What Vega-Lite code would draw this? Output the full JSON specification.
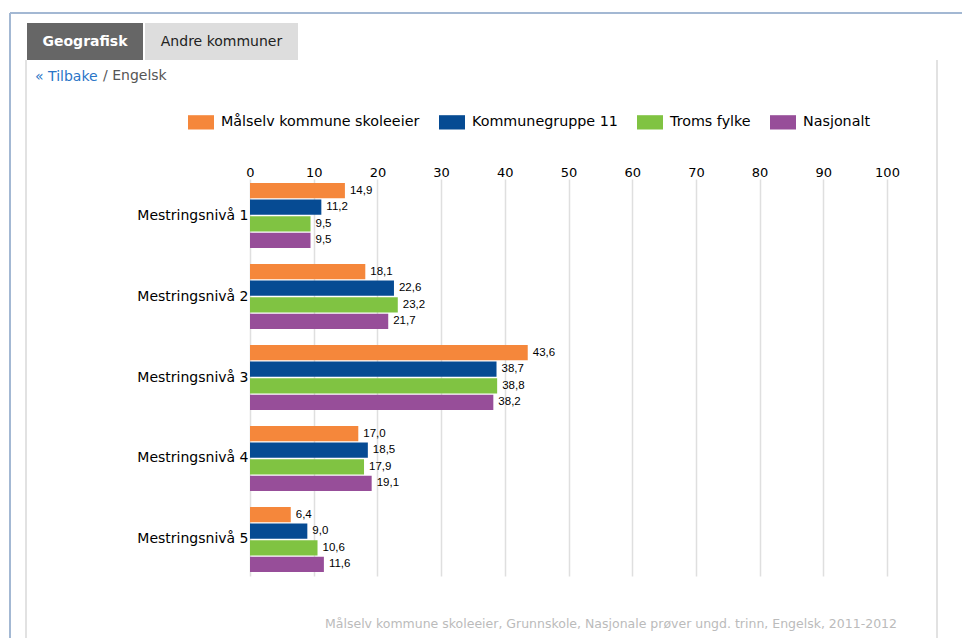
{
  "$schema": "https://vega.github.io/schema/vega-lite/v6.json",
  "width": 637,
  "height": 397,
  "autosize": {"type": "none"},
  "padding": {"left": 250, "top": 179, "right": 75, "bottom": 62},
  "background": "#ffffff",
  "config": {
    "view": {"stroke": null},
    "font": "DejaVu Sans",
    "locale": {"number": {"decimal": ",", "thousands": " ", "grouping": [3], "currency": ["", " kr"]}}
  },
  "title": {
    "text": "Målselv kommune skoleeier, Grunnskole, Nasjonale prøver ungd. trinn, Engelsk, 2011-2012",
    "orient": "bottom",
    "anchor": "end",
    "frame": "group",
    "offset": -21,
    "dx": 10,
    "fontSize": 12.5,
    "fontWeight": "normal",
    "font": "DejaVu Sans",
    "color": "#bbbbbb"
  },
  "resolve": {"scale": {"x": "independent", "y": "independent"}},
  "layer": [
    {
      "data": {"values": [{}]},
      "layer": [
        {
          "mark": {"type": "rule", "color": "#a3b8d3", "strokeWidth": 2},
          "encoding": {
            "x": {"datum": 0, "type": "quantitative", "scale": {"domain": [0, 1], "range": [-240, 712]}, "axis": null},
            "y": {"datum": 0, "type": "quantitative", "scale": {"domain": [0, 1], "range": [-166, 459]}, "axis": null},
            "y2": {"datum": 1}
          }
        },
        {
          "mark": {"type": "rule", "color": "#a3b8d3", "strokeWidth": 2},
          "encoding": {
            "x": {"datum": 0, "type": "quantitative", "scale": {"domain": [0, 1], "range": [-240, 712]}, "axis": null},
            "x2": {"datum": 1},
            "y": {"datum": 0, "type": "quantitative", "scale": {"domain": [0, 1], "range": [-166, 459]}, "axis": null}
          }
        }
      ]
    },
    {
      "data": {"values": [{}]},
      "layer": [
        {
          "mark": {"type": "rule", "color": "#e2e2e2", "strokeWidth": 2},
          "encoding": {
            "x": {"datum": 0, "type": "quantitative", "scale": {"domain": [0, 1], "range": [-224, 687]}, "axis": null},
            "y": {"datum": 0, "type": "quantitative", "scale": {"domain": [0, 1], "range": [-119, 459]}, "axis": null},
            "y2": {"datum": 1}
          }
        },
        {
          "mark": {"type": "rule", "color": "#e2e2e2", "strokeWidth": 2},
          "encoding": {
            "x": {"datum": 1, "type": "quantitative", "scale": {"domain": [0, 1], "range": [-224, 687]}, "axis": null},
            "y": {"datum": 0, "type": "quantitative", "scale": {"domain": [0, 1], "range": [-119, 459]}, "axis": null},
            "y2": {"datum": 1}
          }
        }
      ]
    },
    {
      "data": {"values": [{"tab": "Geografisk"}]},
      "encoding": {
        "x": {"field": "tab", "type": "nominal", "scale": {"type": "band", "range": [-223, -107], "paddingInner": 0, "paddingOuter": 0}, "axis": null},
        "y": {"field": "tab", "type": "nominal", "scale": {"type": "band", "range": [-156, -119], "paddingInner": 0, "paddingOuter": 0}, "axis": null}
      },
      "layer": [
        {"mark": {"type": "rect", "color": "#666666"}},
        {
          "mark": {"type": "text", "color": "#ffffff", "font": "DejaVu Sans", "fontWeight": "bold", "fontSize": 14, "align": "center", "baseline": "middle"},
          "encoding": {"text": {"field": "tab", "type": "nominal"}}
        }
      ]
    },
    {
      "data": {"values": [{"tab": "Andre kommuner"}]},
      "encoding": {
        "x": {"field": "tab", "type": "nominal", "scale": {"type": "band", "range": [-105, 48], "paddingInner": 0, "paddingOuter": 0}, "axis": null},
        "y": {"field": "tab", "type": "nominal", "scale": {"type": "band", "range": [-156, -119], "paddingInner": 0, "paddingOuter": 0}, "axis": null}
      },
      "layer": [
        {"mark": {"type": "rect", "color": "#dddddd"}},
        {
          "mark": {"type": "text", "color": "#222222", "font": "DejaVu Sans", "fontSize": 14, "align": "center", "baseline": "middle"},
          "encoding": {"text": {"field": "tab", "type": "nominal"}}
        }
      ]
    },
    {
      "data": {"values": [{"crumb": "« Tilbake"}]},
      "mark": {"type": "text", "align": "left", "baseline": "middle", "font": "DejaVu Sans", "fontSize": 14, "color": "#2a75c7"},
      "encoding": {
        "x": {"field": "crumb", "type": "nominal", "bandPosition": 0, "scale": {"type": "band", "range": [-215, -155], "paddingInner": 0, "paddingOuter": 0}, "axis": null},
        "y": {"field": "crumb", "type": "nominal", "scale": {"type": "band", "range": [-112, -92], "paddingInner": 0, "paddingOuter": 0}, "axis": null},
        "text": {"field": "crumb", "type": "nominal"}
      }
    },
    {
      "data": {"values": [{"crumb": "/ Engelsk"}]},
      "mark": {"type": "text", "align": "left", "baseline": "middle", "font": "DejaVu Sans", "fontSize": 14, "color": "#555555"},
      "encoding": {
        "x": {"field": "crumb", "type": "nominal", "bandPosition": 0, "scale": {"type": "band", "range": [-147, -80], "paddingInner": 0, "paddingOuter": 0}, "axis": null},
        "y": {"field": "crumb", "type": "nominal", "scale": {"type": "band", "range": [-113, -93], "paddingInner": 0, "paddingOuter": 0}, "axis": null},
        "text": {"field": "crumb", "type": "nominal"}
      }
    },
    {
      "data": {
        "values": [
          {"level": "Mestringsnivå 1", "series": "Målselv kommune skoleeier", "value": 14.9},
          {"level": "Mestringsnivå 1", "series": "Kommunegruppe 11", "value": 11.2},
          {"level": "Mestringsnivå 1", "series": "Troms fylke", "value": 9.5},
          {"level": "Mestringsnivå 1", "series": "Nasjonalt", "value": 9.5},
          {"level": "Mestringsnivå 2", "series": "Målselv kommune skoleeier", "value": 18.1},
          {"level": "Mestringsnivå 2", "series": "Kommunegruppe 11", "value": 22.6},
          {"level": "Mestringsnivå 2", "series": "Troms fylke", "value": 23.2},
          {"level": "Mestringsnivå 2", "series": "Nasjonalt", "value": 21.7},
          {"level": "Mestringsnivå 3", "series": "Målselv kommune skoleeier", "value": 43.6},
          {"level": "Mestringsnivå 3", "series": "Kommunegruppe 11", "value": 38.7},
          {"level": "Mestringsnivå 3", "series": "Troms fylke", "value": 38.8},
          {"level": "Mestringsnivå 3", "series": "Nasjonalt", "value": 38.2},
          {"level": "Mestringsnivå 4", "series": "Målselv kommune skoleeier", "value": 17.0},
          {"level": "Mestringsnivå 4", "series": "Kommunegruppe 11", "value": 18.5},
          {"level": "Mestringsnivå 4", "series": "Troms fylke", "value": 17.9},
          {"level": "Mestringsnivå 4", "series": "Nasjonalt", "value": 19.1},
          {"level": "Mestringsnivå 5", "series": "Målselv kommune skoleeier", "value": 6.4},
          {"level": "Mestringsnivå 5", "series": "Kommunegruppe 11", "value": 9.0},
          {"level": "Mestringsnivå 5", "series": "Troms fylke", "value": 10.6},
          {"level": "Mestringsnivå 5", "series": "Nasjonalt", "value": 11.6}
        ]
      },
      "encoding": {
        "y": {
          "field": "level",
          "type": "nominal",
          "scale": {"paddingInner": 0.1975, "paddingOuter": 0.0494},
          "axis": {"title": null, "domain": false, "ticks": false, "labelFontSize": 14, "labelFont": "DejaVu Sans", "labelColor": "#000000", "labelPadding": 2}
        },
        "yOffset": {
          "field": "series",
          "type": "nominal",
          "scale": {"domain": ["Målselv kommune skoleeier", "Kommunegruppe 11", "Troms fylke", "Nasjonalt"], "paddingInner": 0.08, "paddingOuter": 0}
        },
        "x": {
          "field": "value",
          "type": "quantitative",
          "scale": {"domain": [0, 100], "nice": false},
          "axis": {
            "orient": "top",
            "title": null,
            "values": [0, 10, 20, 30, 40, 50, 60, 70, 80, 90, 100],
            "grid": true,
            "gridColor": "#dfdfdf",
            "gridWidth": 1.5,
            "domain": false,
            "ticks": false,
            "labelPadding": 0,
            "labelFontSize": 13,
            "labelFont": "DejaVu Sans",
            "labelColor": "#000000",
            "labelFlush": false
          }
        }
      },
      "layer": [
        {
          "mark": {"type": "bar"},
          "encoding": {
            "color": {
              "field": "series",
              "type": "nominal",
              "scale": {
                "domain": ["Målselv kommune skoleeier", "Kommunegruppe 11", "Troms fylke", "Nasjonalt"],
                "range": ["#f5873b", "#064b93", "#80c342", "#974e99"]
              },
              "legend": {
                "orient": "none",
                "legendX": -62,
                "legendY": -70,
                "direction": "horizontal",
                "title": null,
                "symbolType": "M-1,-0.55L1,-0.55L1,0.55L-1,0.55Z",
                "symbolSize": 676,
                "symbolStrokeWidth": 0,
                "symbolOpacity": 1,
                "labelFontSize": 14.3,
                "labelFont": "DejaVu Sans",
                "labelColor": "#000000",
                "labelOffset": 7,
                "columnPadding": 19,
                "labelLimit": 400
              }
            }
          }
        },
        {
          "mark": {"type": "text", "align": "left", "baseline": "middle", "dx": 5, "font": "Liberation Sans", "fontSize": 11.5, "color": "#000000"},
          "encoding": {"text": {"field": "value", "type": "quantitative", "format": ".1f"}}
        }
      ]
    }
  ]
}
